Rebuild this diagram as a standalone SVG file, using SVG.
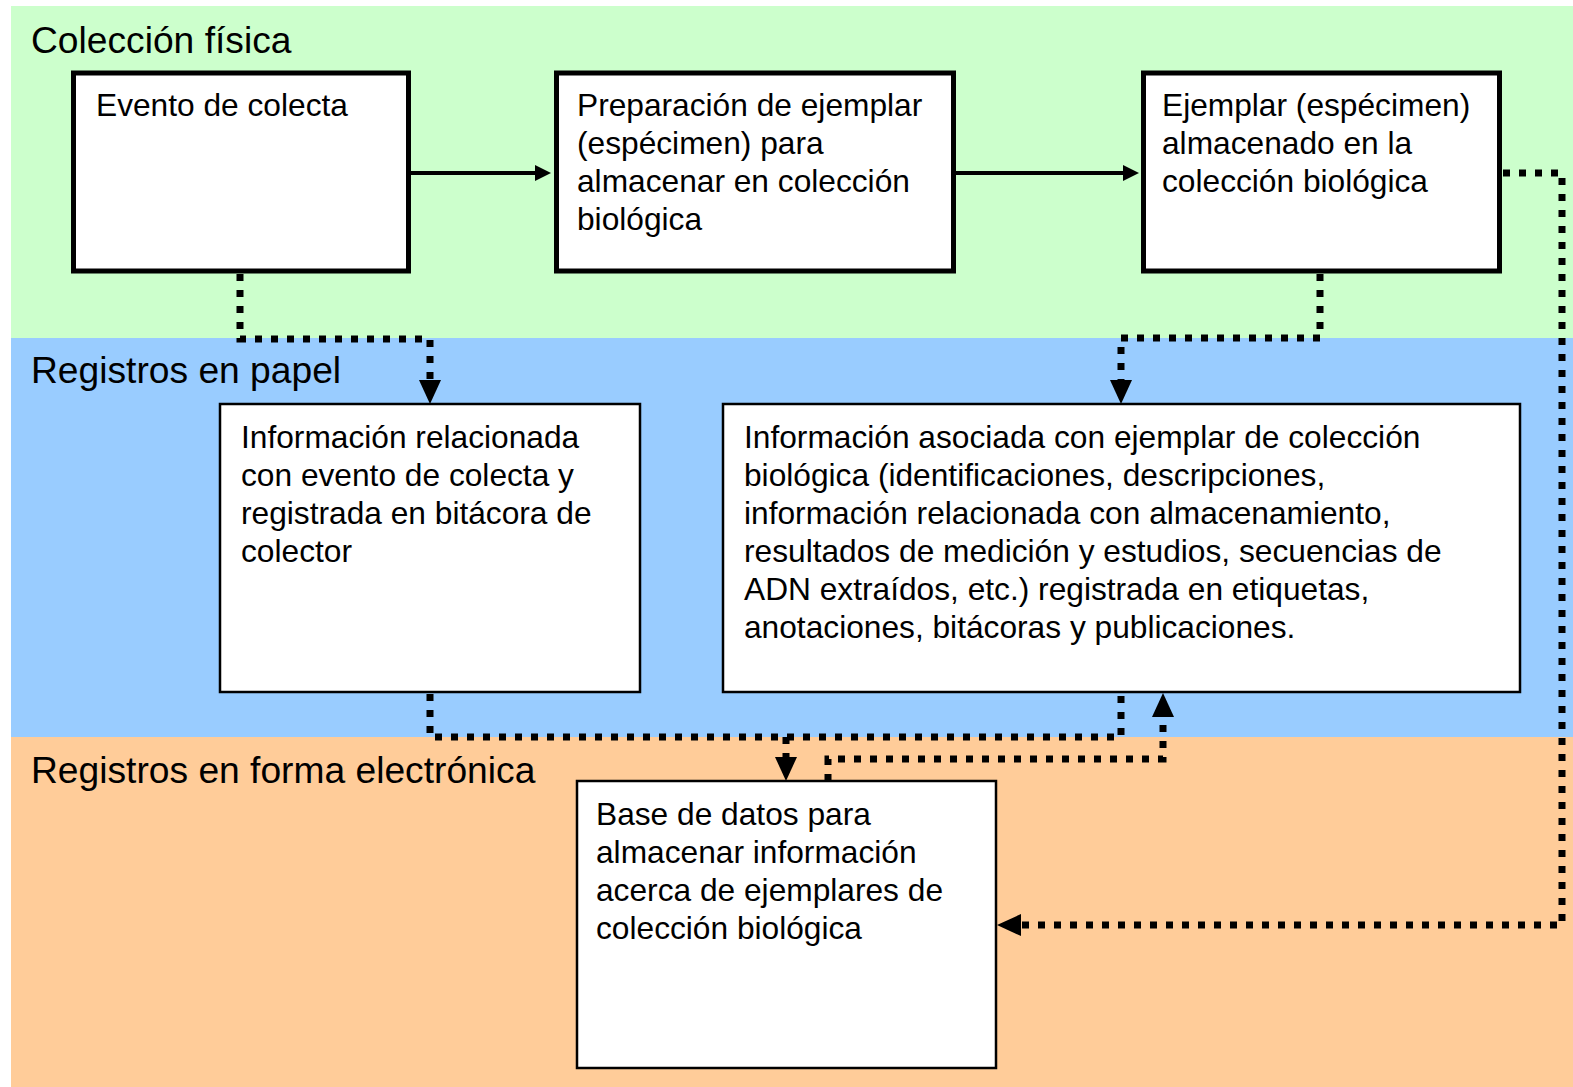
<svg xmlns="http://www.w3.org/2000/svg" width="1573" height="1087" viewBox="0 0 1573 1087">
<defs>
<style>
.lbl{font-family:"Liberation Sans",Arial,sans-serif;font-size:37.2px;fill:#000}
.t{font-family:"Liberation Sans",Arial,sans-serif;font-size:31.7px;fill:#000}
.thick{fill:#fff;stroke:#000;stroke-width:5}
.thin{fill:#fff;stroke:#000;stroke-width:2.5}
.solid{fill:none;stroke:#000;stroke-width:4}
.dot{fill:none;stroke:#000;stroke-width:7;stroke-dasharray:7 9}
</style>
<marker id="as" markerUnits="userSpaceOnUse" markerWidth="16" markerHeight="16" refX="0" refY="8" orient="auto"><path d="M0,0 L16,8 L0,16 z" fill="#000"/></marker>
<marker id="ad" markerUnits="userSpaceOnUse" markerWidth="24" markerHeight="22" refX="0" refY="11" orient="auto"><path d="M0,0 L24,11 L0,22 z" fill="#000"/></marker>
</defs>
<rect x="0" y="0" width="1573" height="1087" fill="#fff"/>
<g id="bands">
<rect x="11" y="6" width="1562" height="332" fill="#CCFFCC"/>
<rect x="11" y="338" width="1562" height="399" fill="#99CCFF"/>
<rect x="11" y="737" width="1562" height="350" fill="#FFCC99"/>
<text class="lbl" x="31" y="53">Colección física</text>
<text class="lbl" x="31" y="383">Registros en papel</text>
<text class="lbl" x="31" y="783">Registros en forma electrónica</text>
</g>
<g id="connectors">
<path class="solid" d="M411,173 H535" marker-end="url(#as)"/>
<path class="solid" d="M956,173 H1123" marker-end="url(#as)"/>
<path class="dot" d="M240,274 V339 H430 V380" marker-end="url(#ad)"/>
<path class="dot" d="M1320,274 V338 H1121 V380" marker-end="url(#ad)"/>
<path class="dot" d="M1503,173 H1562 V925 H1021" marker-end="url(#ad)"/>
<path class="dot" d="M430,694 V737 H1121 V694"/>
<path class="dot" d="M786,737 V757" marker-end="url(#ad)"/>
<path class="dot" d="M828,781 V759 H1163 V717" marker-end="url(#ad)"/>
</g>
<g id="n-evento">
<rect class="thick" x="73.5" y="73" width="335" height="198"/>
<text class="t" x="96" y="116">Evento de colecta</text>
</g>
<g id="n-preparacion">
<rect class="thick" x="556.5" y="73" width="397" height="198"/>
<text class="t"><tspan x="577" y="116">Preparación de ejemplar</tspan><tspan x="577" y="154">(espécimen) para</tspan><tspan x="577" y="192">almacenar en colección</tspan><tspan x="577" y="230">biológica</tspan></text>
</g>
<g id="n-ejemplar">
<rect class="thick" x="1143.5" y="73" width="356" height="198"/>
<text class="t"><tspan x="1162" y="116">Ejemplar (espécimen)</tspan><tspan x="1162" y="154">almacenado en la</tspan><tspan x="1162" y="192">colección biológica</tspan></text>
</g>
<g id="n-info-evento">
<rect class="thin" x="220" y="404" width="420" height="288"/>
<text class="t"><tspan x="241" y="448">Información relacionada</tspan><tspan x="241" y="486">con evento de colecta y</tspan><tspan x="241" y="524">registrada en bitácora de</tspan><tspan x="241" y="562">colector</tspan></text>
</g>
<g id="n-info-ejemplar">
<rect class="thin" x="723" y="404" width="797" height="288"/>
<text class="t"><tspan x="744" y="448">Información asociada con ejemplar de colección</tspan><tspan x="744" y="486">biológica (identificaciones, descripciones,</tspan><tspan x="744" y="524">información relacionada con almacenamiento,</tspan><tspan x="744" y="562">resultados de medición y estudios, secuencias de</tspan><tspan x="744" y="600">ADN extraídos, etc.) registrada en etiquetas,</tspan><tspan x="744" y="638">anotaciones, bitácoras y publicaciones.</tspan></text>
</g>
<g id="n-base-datos">
<rect class="thin" x="577" y="781" width="419" height="287"/>
<text class="t"><tspan x="596" y="825">Base de datos para</tspan><tspan x="596" y="863">almacenar información</tspan><tspan x="596" y="901">acerca de ejemplares de</tspan><tspan x="596" y="939">colección biológica</tspan></text>
</g>
</svg>
